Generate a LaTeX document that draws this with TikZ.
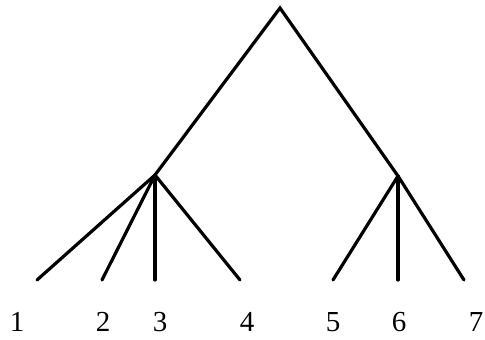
\documentclass[tikz,border=0pt]{standalone}
\usepackage{fontspec}
\setmainfont{Liberation Serif}
\begin{document}
\begin{tikzpicture}[x=1pt,y=-1pt,
  edge/.style={line width=3.2pt,line cap=round,line join=miter},
  lbl/.style={font=\fontsize{29}{31}\selectfont,inner sep=0pt}]
\useasboundingbox (0,0) rectangle (485,340);
\coordinate (r) at (280,8);
\coordinate (a) at (155,175);
\coordinate (b) at (398,176);
\coordinate (l1) at (37,280);
\coordinate (l2) at (102,280);
\coordinate (l3) at (155,280);
\coordinate (l4) at (240,280);
\coordinate (l5) at (333,280);
\coordinate (l6) at (398,280);
\coordinate (l7) at (464,280);
\draw[edge] (a) -- (r) -- (b);
\foreach \l in {l1,l2,l3,l4} \draw[edge] (a) -- (\l);
\foreach \l in {l5,l6,l7} \draw[edge] (b) -- (\l);
\node[lbl] (t1) at (17,322) {1};
\node[lbl] (t2) at (103,322) {2};
\node[lbl] (t3) at (160,322) {3};
\node[lbl] (t4) at (247,322) {4};
\node[lbl] (t5) at (333,322) {5};
\node[lbl] (t6) at (399,322) {6};
\node[lbl] (t7) at (476,322) {7};
\end{tikzpicture}
\end{document}
